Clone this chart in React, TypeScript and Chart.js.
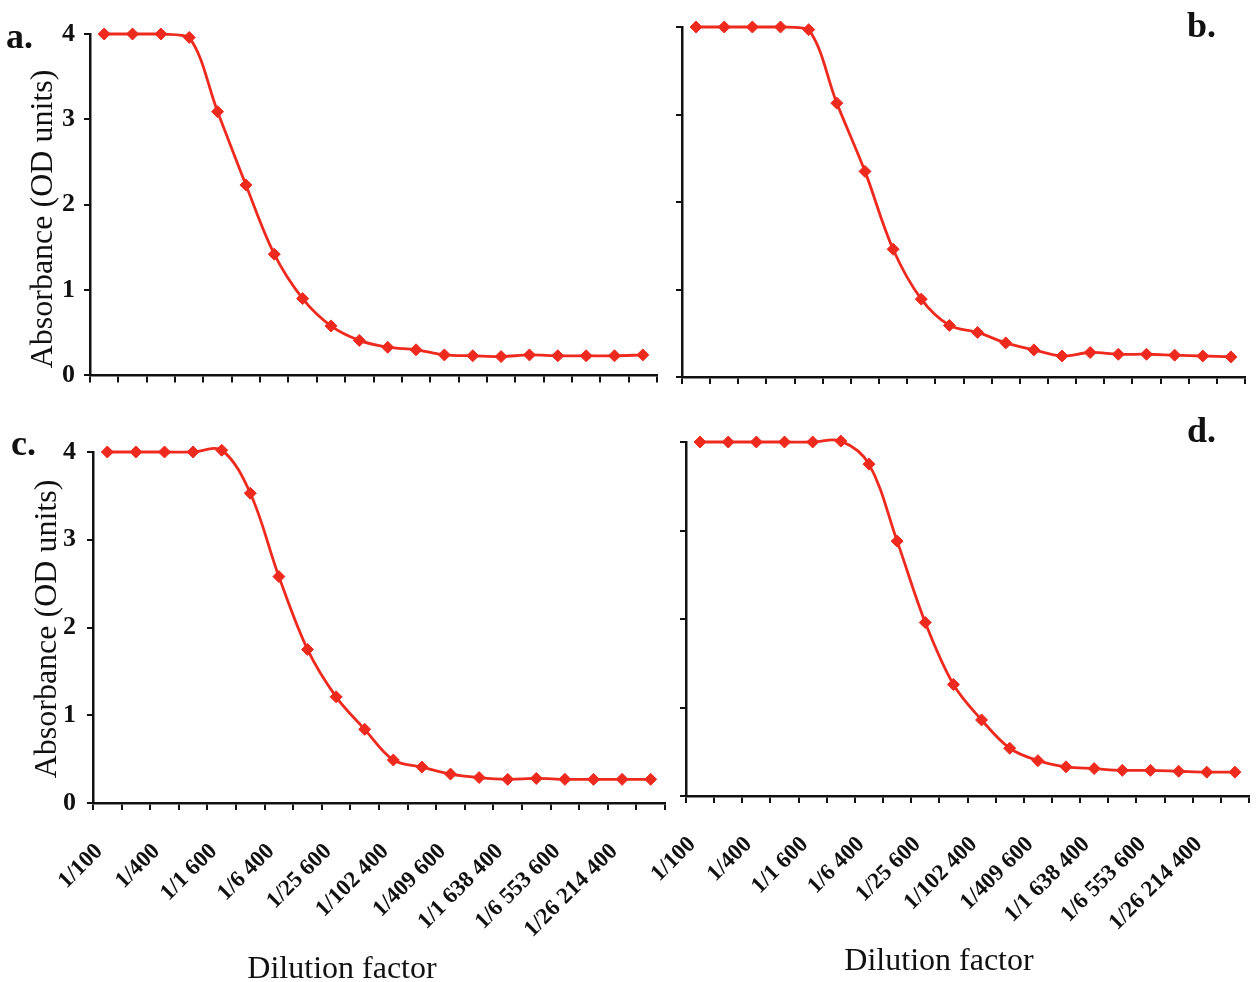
import React, { useEffect, useRef } from "react";
import { Chart, registerables } from "chart.js";

Chart.register(...registerables);

// Dilution series: each step is a 2-fold dilution, every second step is labelled.
const tickLabels = [
  "1/100",
  "1/400",
  "1/1 600",
  "1/6 400",
  "1/25 600",
  "1/102 400",
  "1/409 600",
  "1/1 638 400",
  "1/6 553 600",
  "1/26 214 400",
];
const categories = tickLabels.flatMap((l) => [l, ""]);

// Absorbance (OD units) for each of the four titration curves
const seriesA = [4.0, 4.0, 4.0, 3.96, 3.09, 2.23, 1.42, 0.9, 0.58, 0.41, 0.33, 0.3, 0.24, 0.23, 0.22, 0.24, 0.23, 0.23, 0.23, 0.24];
const seriesB = [4.0, 4.0, 4.0, 4.0, 3.97, 3.13, 2.35, 1.46, 0.89, 0.59, 0.51, 0.39, 0.31, 0.24, 0.28, 0.26, 0.26, 0.25, 0.24, 0.23];
const seriesC = [4.0, 4.0, 4.0, 4.0, 4.02, 3.53, 2.58, 1.75, 1.21, 0.84, 0.49, 0.41, 0.33, 0.29, 0.27, 0.28, 0.27, 0.27, 0.27, 0.27];
const seriesD = [4.0, 4.0, 4.0, 4.0, 4.0, 4.01, 3.75, 2.88, 1.96, 1.26, 0.86, 0.54, 0.4, 0.33, 0.31, 0.29, 0.29, 0.28, 0.27, 0.27];

const yTicks = [0, 1, 2, 3, 4];

const INK = "#111111";
const RED = "#ee2a1e";
const SERIF = "'Liberation Serif', 'Times New Roman', serif";

type Panel = {
  letter: string;
  data: number[];
  box: { left: number; top: number; width: number; height: number };
  pad: { left: number; top: number; right: number; bottom: number };
  yWidth: number;
  xHeight: number;
  yLabels: boolean;
  xLabels: boolean;
  yLabelPad: number;
  xTitlePad: number;
  letterPos: { left: number; top: number };
  yTitleCenter?: { x: number; y: number };
};

const panels: Panel[] = [
  {
    letter: "a.",
    data: seriesA,
    box: { left: 0, top: 0, width: 670, height: 400 },
    pad: { left: 0, top: 34, right: 13, bottom: 0 },
    yWidth: 90,
    xHeight: 18,
    yLabels: true,
    xLabels: false,
    yLabelPad: 9,
    xTitlePad: 0,
    letterPos: { left: 6, top: 18 },
    yTitleCenter: { x: 41, y: 219 },
  },
  {
    letter: "b.",
    data: seriesB,
    box: { left: 660, top: 0, width: 596, height: 400 },
    pad: { left: 0, top: 27, right: 11, bottom: 0 },
    yWidth: 22,
    xHeight: 23,
    yLabels: false,
    xLabels: false,
    yLabelPad: 8,
    xTitlePad: 0,
    letterPos: { left: 1187, top: 7 },
  },
  {
    letter: "c.",
    data: seriesC,
    box: { left: 0, top: 400, width: 680, height: 582 },
    pad: { left: 19, top: 52, right: 15, bottom: 0 },
    yWidth: 74,
    xHeight: 154,
    yLabels: true,
    xLabels: true,
    yLabelPad: 11,
    xTitlePad: 0,
    letterPos: { left: 11, top: 425 },
    yTitleCenter: { x: 45, y: 629 },
  },
  {
    letter: "d.",
    data: seriesD,
    box: { left: 620, top: 400, width: 636, height: 582 },
    pad: { left: 8, top: 42, right: 6, bottom: 0 },
    yWidth: 58,
    xHeight: 153.5,
    yLabels: false,
    xLabels: true,
    yLabelPad: 8,
    xTitlePad: 7.5,
    letterPos: { left: 1187, top: 412 },
  },
];

function TitrationPanel({ p }: { p: Panel }) {
  const ref = useRef<HTMLCanvasElement | null>(null);

  useEffect(() => {
    if (!ref.current) return;
    const chart = new Chart(ref.current, {
      type: "line",
      data: {
        labels: categories,
        datasets: [
          {
            data: p.data,
            borderColor: RED,
            backgroundColor: RED,
            borderWidth: 2.8,
            tension: 0.35,
            fill: false,
            clip: false as any,
            pointStyle: "rectRot",
            pointRadius: 6,
            pointBorderWidth: 1,
            pointBackgroundColor: RED,
            pointBorderColor: RED,
          },
        ],
      },
      options: {
        animation: false,
        responsive: false,
        maintainAspectRatio: false,
        events: [],
        layout: { padding: p.pad },
        plugins: {
          legend: { display: false },
          tooltip: { enabled: false },
          title: p.xLabels
            ? {
                display: true,
                position: "bottom",
                text: "Dilution factor",
                color: INK,
                font: { family: SERIF, size: 32, weight: "normal", lineHeight: 0.78 },
                padding: { top: 0, bottom: p.xTitlePad },
              }
            : { display: false },
        },
        scales: {
          x: {
            type: "category",
            offset: true,
            grid: {
              offset: true,
              drawOnChartArea: false,
              drawTicks: true,
              tickLength: 7,
              color: INK,
              lineWidth: 2,
            },
            border: { display: true, color: INK, width: 2.5 },
            ticks: {
              display: p.xLabels,
              autoSkip: false,
              minRotation: 45,
              maxRotation: 45,
              padding: 28,
              labelOffset: -8,
              color: INK,
              font: { family: SERIF, size: 23, weight: "bold" },
            },
            afterFit: (s: any) => {
              s.height = p.xHeight;
              s.paddingLeft = 0;
              s.paddingRight = 0;
            },
          },
          y: {
            min: 0,
            max: 4,
            afterBuildTicks: (s: any) => {
              s.ticks = yTicks.map((v) => ({ value: v }));
            },
            grid: {
              drawOnChartArea: false,
              drawTicks: true,
              tickLength: 6,
              color: INK,
              lineWidth: 2,
            },
            border: { display: true, color: INK, width: 2.5 },
            ticks: {
              display: p.yLabels,
              padding: p.yLabelPad,
              color: INK,
              font: { family: SERIF, size: 26, weight: "bold" },
            },
            afterFit: (s: any) => {
              s.width = p.yWidth;
            },
          },
        },
      } as any,
    });
    return () => chart.destroy();
  }, [p]);

  return (
    <canvas
      ref={ref}
      width={p.box.width}
      height={p.box.height}
      style={{
        position: "absolute",
        left: p.box.left,
        top: p.box.top,
        width: p.box.width,
        height: p.box.height,
      }}
    />
  );
}

export default function App() {
  return (
    <div
      style={{
        position: "absolute",
        left: 0,
        top: 0,
        width: 1256,
        height: 982,
        background: "#ffffff",
        overflow: "hidden",
      }}
    >
      {panels.map((p) => (
        <TitrationPanel key={p.letter} p={p} />
      ))}
      {panels.map((p) => (
        <div
          key={"l" + p.letter}
          style={{
            position: "absolute",
            left: p.letterPos.left,
            top: p.letterPos.top,
            fontFamily: SERIF,
            fontWeight: "bold",
            fontSize: 36,
            lineHeight: "36px",
            color: INK,
          }}
        >
          {p.letter}
        </div>
      ))}
      {panels
        .filter((p) => p.yTitleCenter)
        .map((p) => (
          <div
            key={"t" + p.letter}
            style={{
              position: "absolute",
              left: p.yTitleCenter!.x,
              top: p.yTitleCenter!.y,
              transform: "translate(-50%, -50%) rotate(-90deg)",
              whiteSpace: "nowrap",
              fontFamily: SERIF,
              fontSize: 32,
              lineHeight: "36px",
              color: INK,
            }}
          >
            Absorbance (OD units)
          </div>
        ))}
    </div>
  );
}
